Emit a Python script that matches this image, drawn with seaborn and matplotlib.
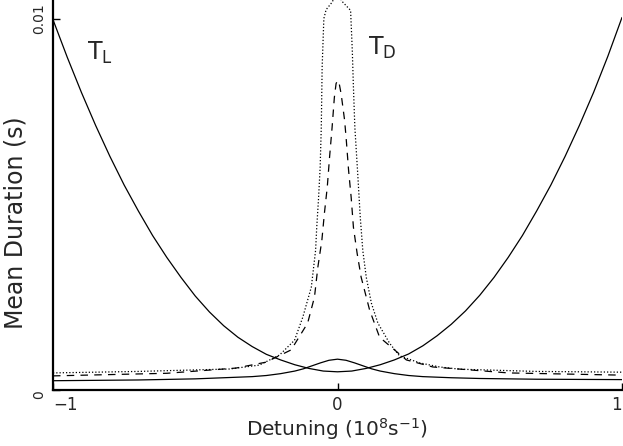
import matplotlib
matplotlib.use('agg')
import matplotlib.pyplot as plt
import seaborn as sns
import pandas as pd

# values (detuning in 1e8 s^-1, duration in s)
tl_x = [-1.0, -0.95, -0.9, -0.85, -0.8, -0.75, -0.7, -0.65, -0.6, -0.55, -0.5,
        -0.45, -0.4, -0.35, -0.3, -0.25, -0.2, -0.15, -0.1, -0.05, 0.0,
        0.05, 0.1, 0.15, 0.2, 0.25, 0.3, 0.35, 0.4, 0.45, 0.5, 0.55,
        0.6, 0.65, 0.7, 0.75, 0.8, 0.85, 0.9, 0.95, 1.0]
tl_y = [0.00997, 0.00896, 0.00801, 0.00712, 0.00629, 0.00552, 0.00482, 0.00416, 0.00357, 0.00303, 0.00253,
        0.00210, 0.00173, 0.00142, 0.00117, 0.00096, 0.00081, 0.00068, 0.00058, 0.00051, 0.00049,
        0.00051, 0.00058, 0.00068, 0.00081, 0.00097, 0.00119, 0.00146, 0.00177, 0.00213, 0.00255, 0.00303,
        0.00357, 0.00416, 0.00482, 0.00552, 0.00629, 0.00712, 0.00801, 0.00898, 0.01003]

bump_x = [-1.0, -0.7, -0.5, -0.4, -0.3, -0.25, -0.2, -0.15, -0.12, -0.09, -0.06, -0.03, 0.0,
          0.03, 0.06, 0.09, 0.12, 0.15, 0.2, 0.25, 0.3, 0.4, 0.5, 0.7, 1.0]
bump_y = [0.00025, 0.00027, 0.0003, 0.00033, 0.00036, 0.00039, 0.00044, 0.00051, 0.00057, 0.00065, 0.00073, 0.0008, 0.00083,
          0.0008, 0.00073, 0.00065, 0.00057, 0.00051, 0.00044, 0.00039, 0.00036, 0.00033, 0.00031, 0.00029, 0.00028]

dash_x = [-1.0, -0.6, -0.357, -0.251, -0.163, -0.105, -0.081, -0.069, -0.055, -0.046,
          -0.036, -0.028, -0.019, -0.011, -0.005, 0.0, 0.006, 0.013, 0.025, 0.031, 0.039, 0.048,
          0.056, 0.069, 0.083, 0.113, 0.148, 0.242, 0.335, 0.6, 1.0]
dash_y = [0.00038, 0.00045, 0.00059, 0.00075, 0.00108, 0.0018, 0.0025, 0.00331, 0.00403, 0.00476,
          0.00546, 0.00626, 0.00707, 0.00788, 0.00825, 0.00833, 0.00825, 0.00796, 0.00726, 0.00672, 0.00591, 0.00519,
          0.00438, 0.00368, 0.00304, 0.00215, 0.00142, 0.00081, 0.00062, 0.00046, 0.0004]

dot_x = [-1.0, -0.7, -0.380, -0.275, -0.204, -0.151, -0.122, -0.092, -0.077, -0.073,
         -0.067, -0.061, -0.057, -0.054, -0.048, -0.040, -0.018, 0.0, 0.014, 0.046,
         0.052, 0.056, 0.061, 0.071, 0.080, 0.089, 0.101, 0.119, 0.142, 0.183,
         0.218, 0.289, 0.359, 0.430, 0.7, 1.0]
dot_y = [0.00046, 0.0005, 0.000565, 0.00067, 0.00094, 0.00134, 0.00196, 0.00277, 0.00376, 0.00438,
         0.00511, 0.00599, 0.00707, 0.00868, 0.0100, 0.01024, 0.01045, 0.0108, 0.01048, 0.01022,
         0.00914, 0.00815, 0.00707, 0.00583, 0.00465, 0.00375, 0.00304, 0.00234, 0.0018, 0.00126,
         0.00092, 0.00073, 0.00062, 0.00056, 0.0005, 0.00048]

sns.set_style('ticks')
plt.rcParams['font.family'] = ['DejaVu Sans']
plt.rcParams['mathtext.default'] = 'regular'

fig = plt.figure(figsize=(6.23, 4.46), dpi=100)
ax = fig.add_axes([53 / 623, 1 - 390 / 446, 569 / 623, 390 / 446])

curves = [
    (tl_x, tl_y, '-'),
    (bump_x, bump_y, '-'),
    (dash_x, dash_y, (0, (6, 5))),
    (dot_x, dot_y, (0, (1, 1.6))),
]
for xs, ys, ls in curves:
    df = pd.DataFrame({'x': xs, 'y': ys})
    sns.lineplot(data=df, x='x', y='y', ax=ax, color='black', lw=0.9,
                 linestyle=ls, estimator=None, sort=False)

ax.set_xlim(-1, 1)
ax.set_ylim(0, 0.0105)
sns.despine(ax=ax)
for s in ['left', 'bottom']:
    ax.spines[s].set_linewidth(1.6)
    ax.spines[s].set_color('black')

ax.set_xticks([-1, 0, 1])
xl = ax.set_xticklabels(['\u22121', '0', '1'], fontsize=12)
xl[0].set_ha('left')
xl[2].set_ha('right')
ax.set_yticks([0, 0.01])
yl = ax.set_yticklabels(['0', '0.01'], rotation=90, va='center', fontsize=10)
yl[0].set_va('top')
ax.tick_params(direction='in', length=5, width=1, color='black')
ax.tick_params(axis='x', pad=4)
ax.tick_params(axis='y', pad=5)

ax.set_xlabel('Detuning (10$^8$s$^{-1}$)', fontsize=14.5)
ax.set_ylabel('Mean Duration (s)', fontsize=17)
ax.xaxis.set_label_coords(0.5, -0.068)
ax.yaxis.set_label_coords(-0.044, 0.43)

ax.text(-0.88, 0.00888, 'T$_{L}$', fontsize=17, ha='left', va='baseline')
ax.text(0.107, 0.00902, 'T$_{D}$', fontsize=17, ha='left', va='baseline')

fig.savefig('out.png', dpi=100)
